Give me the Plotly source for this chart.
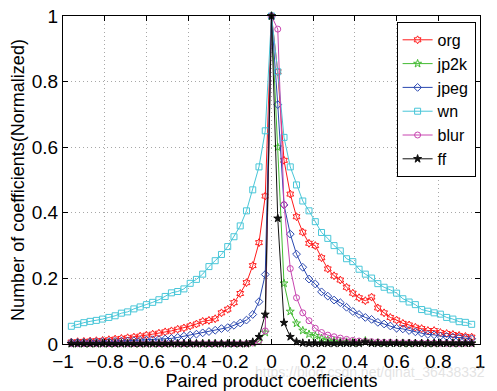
import plotly.graph_objects as go

x = [-0.96, -0.93, -0.90, -0.87, -0.84, -0.81, -0.78, -0.75, -0.72, -0.69, -0.66,
     -0.63, -0.60, -0.57, -0.54, -0.51, -0.48, -0.45, -0.42, -0.39, -0.36, -0.33,
     -0.30, -0.27, -0.24, -0.21, -0.18, -0.15, -0.12, -0.09, -0.06, -0.03, 0.0,
     0.03, 0.06, 0.09, 0.12, 0.15, 0.18, 0.21, 0.24, 0.27, 0.30, 0.33, 0.36,
     0.39, 0.42, 0.45, 0.48, 0.51, 0.54, 0.57, 0.60, 0.63, 0.66, 0.69, 0.72,
     0.75, 0.78, 0.81, 0.84, 0.87, 0.90, 0.93, 0.96]

org = [0.006, 0.007, 0.008, 0.009, 0.010, 0.011, 0.013, 0.015, 0.017, 0.019, 0.021,
       0.024, 0.027, 0.030, 0.033, 0.037, 0.040, 0.045, 0.049, 0.055, 0.061, 0.069,
       0.072, 0.077, 0.095, 0.106, 0.126, 0.154, 0.187, 0.239, 0.309, 0.451, 1.0,
       0.83, 0.56, 0.457, 0.388, 0.341, 0.307, 0.300, 0.263, 0.229, 0.208, 0.195, 0.173,
       0.155, 0.141, 0.132, 0.143, 0.110, 0.095, 0.081, 0.073, 0.063, 0.058, 0.051, 0.047,
       0.041, 0.041, 0.035, 0.032, 0.029, 0.026, 0.023, 0.021]

jp2k = [0.001] * 29 + [0.003, 0.008, 0.035, 1.0,
        0.60, 0.185, 0.099, 0.063, 0.041, 0.030, 0.025, 0.017, 0.012, 0.009, 0.007, 0.006,
        0.005, 0.005, 0.010, 0.004, 0.004, 0.003, 0.003, 0.003, 0.003, 0.002, 0.002, 0.002,
        0.002, 0.002, 0.002, 0.002, 0.002, 0.002, 0.002, 0.002]

jpeg = [0.005, 0.005, 0.005, 0.006, 0.006, 0.007, 0.007, 0.008, 0.009, 0.009, 0.010,
        0.011, 0.012, 0.013, 0.014, 0.015, 0.017, 0.020, 0.024, 0.027, 0.030, 0.034,
        0.038, 0.042, 0.047, 0.050, 0.057, 0.064, 0.073, 0.090, 0.129, 0.212, 1.0,
        0.73, 0.424, 0.335, 0.274, 0.234, 0.198, 0.183, 0.159, 0.146, 0.134, 0.126, 0.112,
        0.099, 0.090, 0.081, 0.075, 0.066, 0.061, 0.055, 0.048, 0.046, 0.041, 0.037, 0.033,
        0.029, 0.028, 0.024, 0.023, 0.021, 0.020, 0.018, 0.016]

wn = [0.054, 0.060, 0.065, 0.069, 0.072, 0.076, 0.081, 0.086, 0.094, 0.098, 0.107,
      0.113, 0.120, 0.127, 0.135, 0.145, 0.156, 0.160, 0.168, 0.185, 0.197, 0.213,
      0.236, 0.254, 0.273, 0.297, 0.327, 0.360, 0.406, 0.470, 0.540, 0.650, 1.0,
      0.83, 0.63, 0.54, 0.485, 0.436, 0.406, 0.373, 0.340, 0.322, 0.300, 0.284, 0.260,
      0.251, 0.228, 0.213, 0.201, 0.184, 0.173, 0.165, 0.155, 0.138, 0.128, 0.120, 0.105,
      0.100, 0.095, 0.091, 0.081, 0.076, 0.068, 0.066, 0.060]

blur = [0.001] * 29 + [0.003, 0.010, 0.040, 1.0,
        0.96, 0.425, 0.230, 0.141, 0.095, 0.071, 0.048, 0.035, 0.027, 0.022, 0.018, 0.014,
        0.011, 0.009, 0.008, 0.007, 0.006, 0.005, 0.005, 0.004, 0.004, 0.004, 0.003, 0.003,
        0.003, 0.003, 0.002, 0.002, 0.002, 0.002, 0.002, 0.002]

ff = [0.001] * 29 + [0.006, 0.022, 0.090, 1.0,
      0.383, 0.065, 0.022, 0.007, 0.003, 0.002, 0.002, 0.002, 0.002, 0.002, 0.002, 0.002,
      0.002, 0.002, 0.006, 0.002, 0.002, 0.002, 0.002, 0.002, 0.002, 0.002, 0.002, 0.002,
      0.002, 0.002, 0.002, 0.002, 0.002, 0.002, 0.002, 0.002]

names = ["org", "jp2k", "jpeg", "wn", "blur", "ff"]
series = [org, jp2k, jpeg, wn, blur, ff]
colors = ["#ff1a1a", "#44bb33", "#2a48b0", "#48c6d8", "#c845b0", "#111111"]
symbols = ["hexagram-open", "star-open", "diamond-open", "square-open", "circle-open", "star"]
sizes = [6, 6, 6, 6, 6, 6]

xticks = [-1, -0.8, -0.6, -0.4, -0.2, 0, 0.2, 0.4, 0.6, 0.8, 1]
xticktext = ["\u22121", "\u22120.8", "\u22120.6", "\u22120.4", "\u22120.2", "0", "0.2", "0.4", "0.6", "0.8", "1"]
yticks = [0, 0.2, 0.4, 0.6, 0.8, 1]
yticktext = ["0", "0.2", "0.4", "0.6", "0.8", "1"]

fig = go.Figure()
for n, s, c, sym, sz in zip(names, series, colors, symbols, sizes):
    fig.add_trace(go.Scatter(
        x=x, y=s, name=n, mode="lines+markers",
        line=dict(color=c, width=1),
        marker=dict(symbol=sym, size=sz, color=c, line=dict(color=c, width=1)),
        cliponaxis=False,
    ))

font = "Liberation Sans, Arial, Helvetica, sans-serif"
axis_common = dict(
    showline=True, linecolor="black", linewidth=1, mirror="ticks",
    ticks="inside", ticklen=5, tickcolor="black",
    showgrid=True, gridcolor="#a8a8a8", griddash="1px,3px", gridwidth=1,
    zeroline=False, automargin=False, ticklabeloverflow="allow",
    tickfont=dict(family=font, size=19, color="black"),
)

fig.update_layout(
    width=497, height=391,
    margin=dict(l=63, r=17, t=16, b=47),
    paper_bgcolor="white", plot_bgcolor="white",
    font=dict(family=font, color="black"),
    xaxis=dict(range=[-1, 1], tickvals=xticks, ticktext=xticktext,
               title=dict(text="Paired product coefficients", font=dict(size=18), standoff=5),
               **axis_common),
    yaxis=dict(range=[0, 1], tickvals=yticks, ticktext=yticktext,
               title=dict(text="Number of coefficients(Normalized)", font=dict(size=18), standoff=2),
               **axis_common),
    legend=dict(x=0.80, y=0.982, xanchor="left", yanchor="top",
                bgcolor="white", bordercolor="black", borderwidth=1,
                font=dict(family=font, size=16, color="black"),
                itemwidth=30, tracegroupgap=0),
    showlegend=True,
)

fig.add_annotation(text="https://blog.csdn.net/qinat_36438332", xref="paper", yref="paper",
                   x=1.017, y=-0.085, xanchor="right", yanchor="middle", showarrow=False,
                   font=dict(family=font, size=14, color="rgba(200,200,200,0.5)"))

fig.write_html("out.html", config={"displayModeBar": False},
               post_script="document.body.style.margin='0';document.body.style.overflow='hidden';")
